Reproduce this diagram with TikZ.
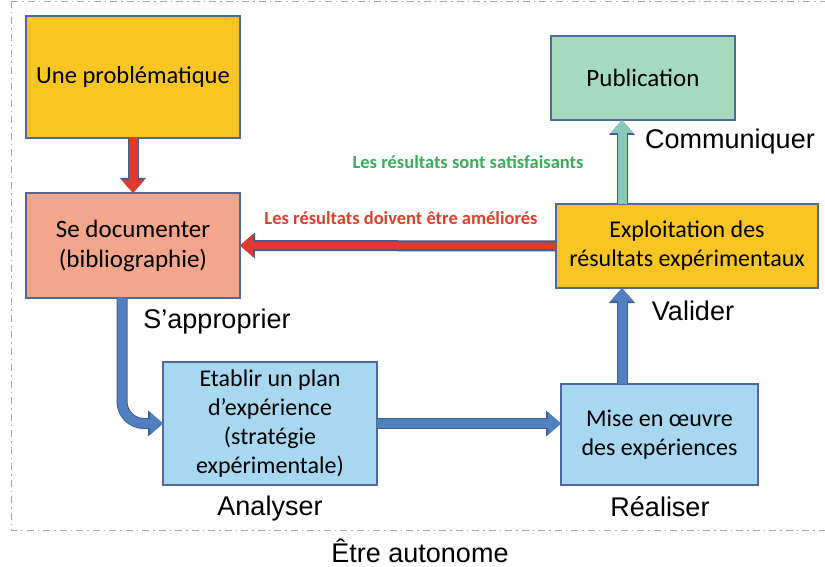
\documentclass[tikz,border=0pt]{standalone}
\usepackage{fontspec}
\setmainfont{Carlito}
\newfontfamily\arialfont{Liberation Sans}
\usetikzlibrary{arrows.meta}
\definecolor{jaune}{RGB}{249,197,35}
\definecolor{saumon}{RGB}{244,166,140}
\definecolor{menthe}{RGB}{166,218,190}
\definecolor{bleuclair}{RGB}{168,216,241}
\definecolor{cadre}{RGB}{78,106,156}
\definecolor{rouge}{RGB}{222,58,46}
\definecolor{bleu}{RGB}{80,128,190}
\definecolor{bleufonce}{RGB}{58,96,150}
\definecolor{vertfleche}{RGB}{140,202,184}
\definecolor{vert}{RGB}{60,170,90}
\definecolor{rougetexte}{RGB}{214,66,44}

\begin{document}
\begin{tikzpicture}[x=1pt,y=-1pt]
      \tikzstyle{boite}=[draw=cadre,line width=1.3pt,align=center,outer sep=0pt,font=\fontsize{24}{29}\selectfont]
      \tikzstyle{etiquette}=[font=\arialfont\fontsize{27}{30}\selectfont]
      \tikzstyle{fleche}=[line width=9pt,color=#1,-{Triangle[width=22pt,length=13pt]},
        preaction={draw=bleufonce,line width=11pt,-{Triangle[width=25pt,length=15pt]}}]
      \tikzstyle{bordure}=[gray!70,line width=0.8pt,dash pattern=on 7pt off 4pt on 1.5pt off 4pt]
      \useasboundingbox (0,0) rectangle (825,567);
      \draw[bordure] (11,1) -- (825,1);
      \draw[bordure] (11,1) -- (11,530) -- (825,530);
      \node[boite,fill=jaune,minimum width=214pt,minimum height=122pt,font=\fontsize{24.5}{29}\selectfont] (pb) at (133,77) {Une problématique};
      \node[boite,fill=saumon,minimum width=214pt,minimum height=105pt,font=\fontsize{25}{30}\selectfont] (doc) at (133,245.5) {Se documenter\\(bibliographie)};
      \node[boite,fill=menthe,minimum width=184pt,minimum height=84pt,font=\fontsize{25}{30}\selectfont] (pub) at (643,78) {Publication};
      \node[boite,fill=jaune,minimum width=262pt,minimum height=84pt] (expl) at (687,246) {Exploitation des\\résultats expérimentaux};
      \node[boite,fill=bleuclair,minimum width=214pt,minimum height=123pt] (plan) at (270,423.5) {Etablir un plan\\d’expérience\\(stratégie\\expérimentale)};
      \node[boite,fill=bleuclair,minimum width=197pt,minimum height=101pt] (mise) at (659.5,434.5) {Mise en œuvre\\des expériences};
      \coordinate (axe) at (622,0);
      \coordinate (coin) at (122,0);
      \draw[fleche=rouge] (pb.south) -- (doc.north);
      \draw[fleche=rouge,line width=7pt] (expl.west) -- (doc.east);
      \draw[fleche=vertfleche] (expl.north -| axe) -- (pub.south -| axe);
      \draw[fleche=bleu] (mise.north -| axe) -- (expl.south -| axe);
      \draw[fleche=bleu] (plan.east) -- (plan.east -| mise.west);
      \draw[fleche=bleu,rounded corners=22pt] (doc.south -| coin) |- (plan.west);
      \node[font=\bfseries\fontsize{18.5}{20}\selectfont,text=vert] (ok) at (468,162) {Les résultats sont satisfaisants};
      \node[font=\bfseries\fontsize{18.5}{20}\selectfont,text=rougetexte] (ko) at (401,218) {Les résultats doivent être améliorés};
      \node[etiquette] (appr) at (217,322) {S’approprier};
      \node[etiquette] (comm) at (730,142) {Communiquer};
      \node[etiquette] (vali) at (693,311) {Valider};
      \node[etiquette] (anal) at (270,509) {Analyser};
      \node[etiquette] (real) at (660,507) {Réaliser};
      \node[etiquette] (auto) at (420,551) {Être autonome};
    \end{tikzpicture}
\end{document}
